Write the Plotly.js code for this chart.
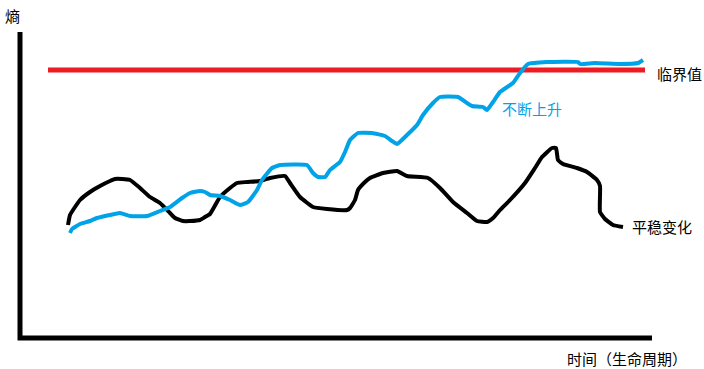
<!DOCTYPE html>
<html>
<head>
<meta charset="utf-8">
<script src="https://cdn.plot.ly/plotly-3.0.1.min.js"></script>
<style>html,body{margin:0;padding:0;background:#fff;}#chart{width:704px;height:369px;}</style>
</head>
<body>
<div id="chart"></div>
<script>
// Hand-drawn curves (x: time, y: entropy, screen-like units)
var axisX = [20, 20, 652];
var axisY = [32, 338, 338];

var thresholdX = [48, 645];
var thresholdY = [70, 70];

var steadyX = [68, 70, 75, 80, 90, 100, 110, 115, 122, 130, 140, 150, 160, 170, 175, 183, 190, 200, 205, 210, 220, 230, 237, 247, 260, 270, 285, 290, 300, 313, 327, 347, 350, 355, 358, 365, 370, 383, 397, 407, 428, 440, 453, 467, 477, 487, 493, 500, 510, 525, 535, 542, 552, 556, 558, 563, 577, 587, 597, 600, 600, 605, 613, 623];
var steadyY = [225, 215, 207, 200, 192, 186, 181, 179, 179, 180, 188, 197, 203, 213, 218, 221, 221, 220, 217, 214, 197, 188, 183, 182, 181, 178, 176, 183, 197, 207, 209, 210, 208, 200, 190, 182, 178, 173, 171, 176, 178, 188, 202, 213, 221, 222, 218, 210, 200, 183, 168, 157, 148, 148, 160, 164, 168, 172, 180, 186, 212, 219, 225, 227];

var risingX = [70, 72, 80, 90, 97, 110, 120, 130, 147, 160, 170, 182, 190, 200, 205, 210, 220, 230, 240, 248, 257, 262, 272, 280, 307, 313, 318, 325, 330, 340, 345, 350, 358, 372, 385, 392, 397, 407, 417, 423, 433, 440, 458, 467, 472, 483, 487, 493, 500, 513, 520, 528, 547, 578, 580, 595, 620, 638, 643];
var risingY = [233, 229, 224, 221, 218, 215, 213, 216, 216, 211, 207, 198, 193, 191, 192, 195, 196, 200, 205, 202, 190, 180, 168, 165, 165, 173, 177, 177, 170, 162, 152, 140, 133, 133, 136, 141, 144, 135, 125, 115, 103, 97, 97, 103, 106, 107, 110, 102, 92, 83, 73, 64, 62, 62, 64, 63, 64, 63, 60];

var labelYAxis = '熵';
var labelXAxis = '时间（生命周期）';
var labelThreshold = '临界值';
var labelRising = '不断上升';
var labelSteady = '平稳变化';

var BLUE = '#00a2e8', RED = '#ed1c24', BLACK = '#000000';
var FONT = '"Noto Sans CJK SC", "Noto Sans", sans-serif';
var FONT_CENTERED_PUNCT = '"Noto Sans CJK TC", "Noto Sans CJK SC", sans-serif';

var traces = [
  {x: axisX, y: axisY, mode: 'lines', line: {color: BLACK, width: 5}, hoverinfo: 'skip'},
  {x: thresholdX, y: thresholdY, mode: 'lines', line: {color: RED, width: 5}, hoverinfo: 'skip'},
  {x: steadyX, y: steadyY, mode: 'lines', line: {color: BLACK, width: 4, shape: 'spline', smoothing: 0.4}, hoverinfo: 'skip'},
  {x: risingX, y: risingY, mode: 'lines', line: {color: BLUE, width: 4, shape: 'spline', smoothing: 0.4}, hoverinfo: 'skip'}
];

var layout = {
  width: 704, height: 369,
  margin: {l: 0, r: 0, t: 0, b: 0},
  paper_bgcolor: '#ffffff', plot_bgcolor: '#ffffff',
  showlegend: false,
  xaxis: {range: [0, 704], visible: false, fixedrange: true},
  yaxis: {range: [369, 0], visible: false, fixedrange: true},
  annotations: [
    {x: 3, y: 15, xref: 'x', yref: 'y', text: labelYAxis, showarrow: false, xanchor: 'left', yanchor: 'middle', font: {family: FONT, size: 15, color: BLACK}},
    {x: 565, y: 358, xref: 'x', yref: 'y', text: labelXAxis, showarrow: false, xanchor: 'left', yanchor: 'middle', font: {family: FONT_CENTERED_PUNCT, size: 15, color: BLACK}},
    {x: 655, y: 73, xref: 'x', yref: 'y', text: labelThreshold, showarrow: false, xanchor: 'left', yanchor: 'middle', font: {family: FONT, size: 15, color: BLACK}},
    {x: 500, y: 108, xref: 'x', yref: 'y', text: labelRising, showarrow: false, xanchor: 'left', yanchor: 'middle', font: {family: FONT, size: 15, color: BLUE}},
    {x: 630, y: 226, xref: 'x', yref: 'y', text: labelSteady, showarrow: false, xanchor: 'left', yanchor: 'middle', font: {family: FONT, size: 15, color: BLACK}}
  ]
};

Plotly.newPlot('chart', traces, layout, {staticPlot: true, displayModeBar: false});
</script>
</body>
</html>
